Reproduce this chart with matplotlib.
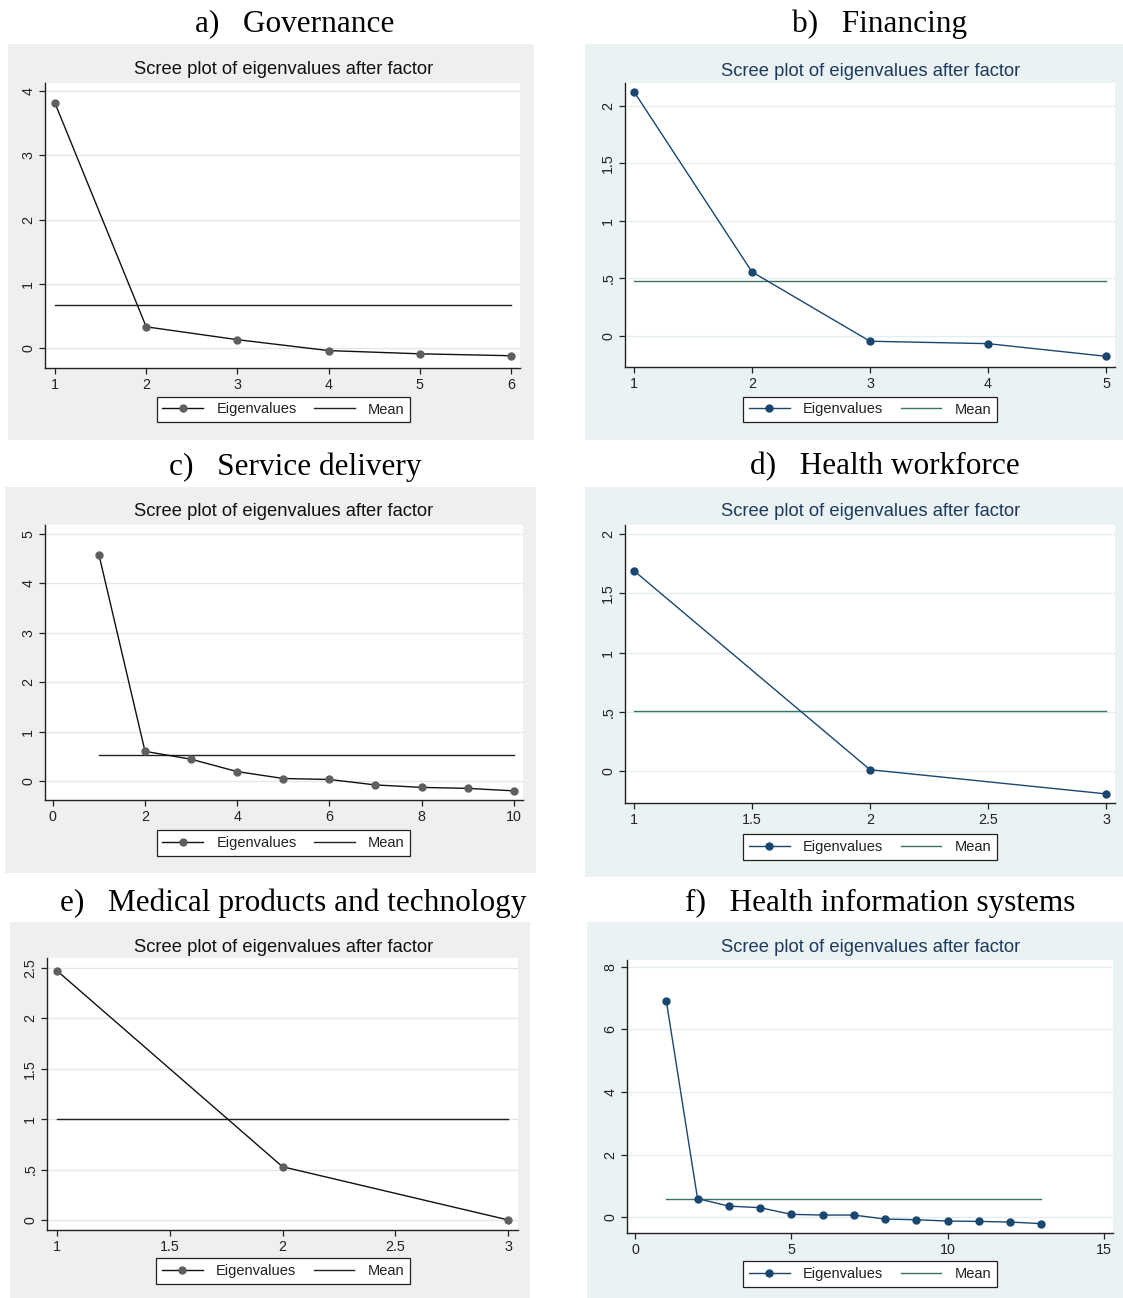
import matplotlib
matplotlib.use("Agg")
import matplotlib.pyplot as plt
from matplotlib.patches import Rectangle
from matplotlib.lines import Line2D
import numpy as np

# ---- data: eigenvalues from each factor analysis ----
gov_eigen = [3.81, 0.33, 0.13, -0.04, -0.09, -0.12]
fin_eigen = [2.125, 0.557, -0.046, -0.067, -0.177]
svc_eigen = [4.58, 0.60, 0.44, 0.19, 0.05, 0.03, -0.08, -0.13, -0.15, -0.20]
hw_eigen = [1.69, 0.011, -0.193]
med_eigen = [2.474, 0.528, 0.0]
his_eigen = [6.92, 0.59, 0.35, 0.30, 0.086, 0.064, 0.064, -0.064, -0.086,
             -0.128, -0.14, -0.16, -0.21]

headings = ["a)   Governance", "b)   Financing", "c)   Service delivery",
            "d)   Health workforce", "e)   Medical products and technology",
            "f)   Health information systems"]
plot_title = "Scree plot of eigenvalues after factor"
legend_labels = ["Eigenvalues", "Mean"]

gov_xticks = [1, 2, 3, 4, 5, 6]
fin_xticks = [1, 2, 3, 4, 5]
svc_xticks = [0, 2, 4, 6, 8, 10]
hw_xticks = [1, 1.5, 2, 2.5, 3]
med_xticks = [1, 1.5, 2, 2.5, 3]
his_xticks = [0, 5, 10, 15]

gov_yticks = [0, 1, 2, 3, 4]
fin_yticks = [0, 0.5, 1, 1.5, 2]
svc_yticks = [0, 1, 2, 3, 4, 5]
hw_yticks = [0, 0.5, 1, 1.5, 2]
med_yticks = [0, 0.5, 1, 1.5, 2, 2.5]
his_yticks = [0, 2, 4, 6, 8]

gov_ylabels = ["0", "1", "2", "3", "4"]
fin_ylabels = ["0", ".5", "1", "1.5", "2"]
svc_ylabels = ["0", "1", "2", "3", "4", "5"]
hw_ylabels = ["0", ".5", "1", "1.5", "2"]
med_ylabels = ["0", ".5", "1", "1.5", "2", "2.5"]
his_ylabels = ["0", "2", "4", "6", "8"]

# ---- styles ----
W, H = 1123, 1298
SANS = ["Liberation Sans", "DejaVu Sans"]
SERIF = ["Liberation Serif", "DejaVu Serif"]

mono = dict(bg="#efefef", grid="#e6e6e6", line="#111111", marker="#5f5f5f",
            mean="#222222", title="#111111", text="#222222", axis="#222222")
color = dict(bg="#eaf2f3", grid="#e3eef0", line="#1a476f", marker="#1a476f",
             mean="#3a7468", title="#1e3a5c", text="#222222", axis="#222222")

# panel layout in pixels: background box, plot box, axis limits
panels = [
    dict(data=gov_eigen, xt=gov_xticks, yt=gov_yticks, yl=gov_ylabels, sty=mono,
         bg=(8, 44, 534, 440), ax=(45, 83, 520, 368), xlim=(0.89, 6.10),
         ylim=(-0.311, 4.125), head=(295, 24), title=(284, 70),
         leg=(157, 397, 410, 422)),
    dict(data=fin_eigen, xt=fin_xticks, yt=fin_yticks, yl=fin_ylabels, sty=color,
         bg=(585, 44, 1123, 440), ax=(625, 83, 1115, 367), xlim=(0.924, 5.076),
         ylim=(-0.27, 2.2), head=(880, 24), title=(871, 71),
         leg=(740, 397, 1000, 422)),
    dict(data=svc_eigen, xt=svc_xticks, yt=svc_yticks, yl=svc_ylabels, sty=mono,
         bg=(5, 487, 536, 873), ax=(45, 525, 523, 800), xlim=(-0.17, 10.2),
         ylim=(-0.385, 5.18), head=(295, 467), title=(284, 512),
         leg=(156, 831, 411, 855)),
    dict(data=hw_eigen, xt=hw_xticks, yt=hw_yticks, yl=hw_ylabels, sty=color,
         bg=(585, 487, 1123, 877), ax=(625, 525, 1115, 803), xlim=(0.962, 3.038),
         ylim=(-0.27, 2.076), head=(885, 467), title=(871, 512),
         leg=(740, 835, 1000, 859)),
    dict(data=med_eigen, xt=med_xticks, yt=med_yticks, yl=med_ylabels, sty=mono,
         bg=(10, 922, 530, 1298), ax=(47, 958, 518, 1230), xlim=(0.956, 3.044),
         ylim=(-0.1, 2.6), head=(293, 903), title=(284, 947),
         leg=(158, 1259, 408, 1283)),
    dict(data=his_eigen, xt=his_xticks, yt=his_yticks, yl=his_ylabels, sty=color,
         bg=(587, 922, 1123, 1298), ax=(627, 960, 1113, 1233), xlim=(-0.256, 15.29),
         ylim=(-0.51, 8.22), head=(880, 903), title=(871, 947),
         leg=(740, 1262, 1000, 1286)),
]

fig = plt.figure(figsize=(W / 100, H / 100), dpi=100)
fig.patch.set_facecolor("white")


def frac_box(x0, y0, x1, y1):
    return [x0 / W, 1 - y1 / H, (x1 - x0) / W, (y1 - y0) / H]


def fig_xy(x, y):
    return x / W, 1 - y / H


for p, head in zip(panels, headings):
    s = p["sty"]
    bx0, by0, bx1, by1 = p["bg"]
    l, b, w, h = frac_box(bx0, by0, bx1, by1)
    fig.add_artist(Rectangle((l, b), w, h, transform=fig.transFigure,
                             facecolor=s["bg"], edgecolor="none", zorder=0))

    hx, hy = fig_xy(*p["head"])
    fig.text(hx, hy, head, family=SERIF, fontsize=22.5, ha="center", va="center",
             color="black")
    tx, ty = fig_xy(*p["title"])
    fig.text(tx, ty, plot_title, family=SANS, fontsize=13.2, ha="center",
             va="center", color=s["title"])

    ax = fig.add_axes(frac_box(*p["ax"]))
    ax.set_facecolor("white")
    vals = np.array(p["data"])
    comps = np.arange(1, len(vals) + 1)
    mean_val = vals.mean()

    for yv in p["yt"]:
        ax.axhline(yv, color=s["grid"], lw=1.0, zorder=1)
    ax.plot([comps[0], comps[-1]], [mean_val, mean_val], color=s["mean"],
            lw=1.0, zorder=2)
    ax.plot(comps, vals, color=s["line"], lw=1.0, marker="o", ms=5,
            mfc=s["marker"], mec=s["marker"], zorder=3)

    ax.set_xlim(*p["xlim"])
    ax.set_ylim(*p["ylim"])
    ax.set_xticks(p["xt"])
    ax.set_xticklabels([f"{v:g}" for v in p["xt"]])
    ax.set_yticks(p["yt"])
    ax.set_yticklabels(p["yl"], rotation=90, va="center")
    for side in ("top", "right"):
        ax.spines[side].set_visible(False)
    for side in ("left", "bottom"):
        ax.spines[side].set_color(s["axis"])
        ax.spines[side].set_linewidth(1.0)
    ax.tick_params(direction="out", length=4, width=0.9, color=s["axis"],
                   labelsize=10.3, labelcolor=s["text"], pad=3)
    for lab in ax.get_xticklabels() + ax.get_yticklabels():
        lab.set_family(SANS)

    handles = [Line2D([], [], color=s["line"], lw=1.0, marker="o", ms=5,
                      mfc=s["marker"], mec=s["marker"]),
               Line2D([], [], color=s["mean"], lw=1.0)]
    lx0, ly0, lx1, ly1 = p["leg"]
    cx, cy = fig_xy((lx0 + lx1) / 2, (ly0 + ly1) / 2)
    leg = ax.legend(handles, legend_labels, ncol=2, loc="center",
                    bbox_to_anchor=(cx, cy), bbox_transform=fig.transFigure,
                    frameon=True, fancybox=False, edgecolor="#222222",
                    framealpha=1, facecolor="white", handlelength=2.8,
                    columnspacing=1.2, handletextpad=0.9, borderpad=0.4,
                    prop=dict(family=SANS, size=10.5))
    leg.get_frame().set_linewidth(0.9)
    for t in leg.get_texts():
        t.set_color(s["text"])

fig.savefig("out.png", dpi=100)
